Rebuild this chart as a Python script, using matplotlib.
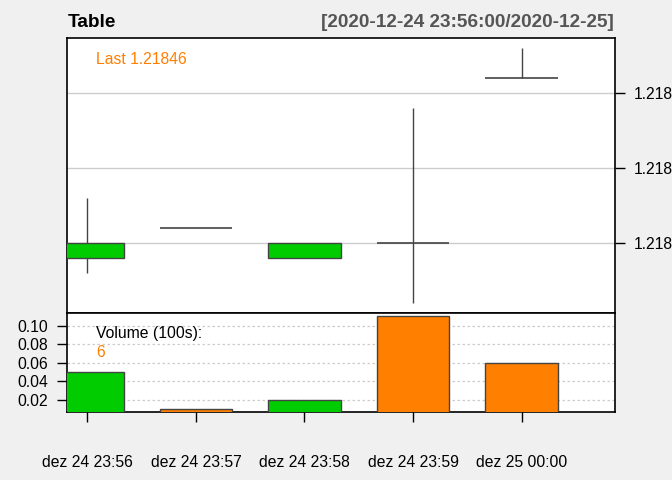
import matplotlib
matplotlib.use("Agg")
import matplotlib.pyplot as plt
import numpy as np

plt.rcParams['font.family'] = ['Liberation Sans', 'DejaVu Sans']

# ---- data ----
labels = ["dez 24 23:56", "dez 24 23:57", "dez 24 23:58", "dez 24 23:59", "dez 25 00:00"]
opens = [1.21834, 1.21836, 1.21834, 1.21835, 1.21846]
highs = [1.21838, 1.21836, 1.21835, 1.21844, 1.21848]
lows = [1.21833, 1.21836, 1.21834, 1.21831, 1.21846]
closes = [1.21835, 1.21836, 1.21835, 1.21835, 1.21846]
volumes = [5, 1, 2, 11, 6]  # raw volume; shown in 100s
price_ticks = [1.21835, 1.21840, 1.21845]
price_tick_labels = ["1.218", "1.218", "1.218"]
vol_ticks = [0.02, 0.04, 0.06, 0.08, 0.10]
vol_tick_labels = ["0.02", "0.04", "0.06", "0.08", "0.10"]
title = "Table"
range_text = "[2020-12-24 23:56:00/2020-12-25]"

UP = "#00CC00"
DN = "#FF7F00"
EDGE = "#444444"
BG = "#F0F0F0"

fig = plt.figure(figsize=(6.72, 4.8), dpi=100, facecolor=BG)
W, H = 672, 480
left, right = 67.3 / W, 614.5 / W
ax = fig.add_axes([left, 1 - 313.3 / H, right - left, (313.3 - 38.3) / H])
axv = fig.add_axes([left, 1 - 412.3 / H, right - left, (412.3 - 313.3) / H])

x = np.arange(1, len(labels) + 1)
bw = 0.67
xlim = (0.815, 5.856)

# ---- main candle panel ----
ax.set_facecolor("white")
for t in price_ticks:
    ax.axhline(t, color="#CCCCCC", lw=1.0, zorder=0)
for i in range(len(x)):
    o, h, l, c = opens[i], highs[i], lows[i], closes[i]
    ax.vlines(x[i], l, h, color=EDGE, lw=1.0, zorder=2)
    if c > o:
        ax.bar(x[i], c - o, bottom=o, width=bw, color=UP, edgecolor=EDGE, lw=1.0, zorder=3)
    elif c < o:
        ax.bar(x[i], o - c, bottom=c, width=bw, color=DN, edgecolor=EDGE, lw=1.0, zorder=3)
    else:
        ax.hlines(c, x[i] - bw / 2, x[i] + bw / 2, color=EDGE, lw=1.2, zorder=3)
ax.set_xlim(*xlim)
ax.set_ylim(1.2183033, 1.2184867)
ax.set_xticks([])
ax.yaxis.tick_right()
ax.set_yticks(price_ticks)
ax.set_yticklabels(price_tick_labels)
ax.tick_params(axis='y', direction='out', length=7, width=1, pad=7, labelsize=11.3, colors='black')
for s in ax.spines.values():
    s.set_linewidth(1.2)
    s.set_color("black")
ax.text(96 / W, 1 - 64 / H, "Last %.5f" % closes[-1], transform=fig.transFigure,
        color=DN, fontsize=11.3, ha='left', va='baseline')

# ---- volume panel ----
axv.set_facecolor("white")
vols = np.array(volumes) / 100.0
for t in vol_ticks:
    axv.axhline(t, color="#CCCCCC", lw=0.9, ls=(0, (2, 2)), zorder=0)
vcols = [UP if closes[i] > opens[i] else DN for i in range(len(x))]
axv.bar(x, vols, width=bw, color=vcols, edgecolor=EDGE, lw=1.0, zorder=3)
axv.set_xlim(*xlim)
axv.set_ylim(0.0067, 0.1133)
axv.set_yticks(vol_ticks)
axv.set_yticklabels(vol_tick_labels)
axv.set_xticks(x)
axv.set_xticklabels(labels)
axv.tick_params(axis='y', direction='out', length=7, width=1, pad=7, labelsize=11.3)
axv.tick_params(axis='x', direction='out', length=7, width=1, pad=24, labelsize=11.3)
for s in axv.spines.values():
    s.set_linewidth(1.2)
    s.set_color("black")
fig.text(96 / W, 1 - 338.3 / H, "Volume (100s):", color="black", fontsize=11.3, ha='left', va='baseline')
fig.text(96 / W, 1 - 356.7 / H, "%d" % volumes[-1], color=DN, fontsize=11.3, ha='left', va='baseline')

# ---- titles ----
fig.text(68 / W, 1 - 26.7 / H, title, fontsize=13.7, fontweight='bold', color='black',
         ha='left', va='baseline')
fig.text(614 / W, 1 - 26.7 / H, range_text, fontsize=13.7, fontweight='bold', color='#555555',
         ha='right', va='baseline')

fig.savefig("out.png", dpi=100, facecolor=BG)
